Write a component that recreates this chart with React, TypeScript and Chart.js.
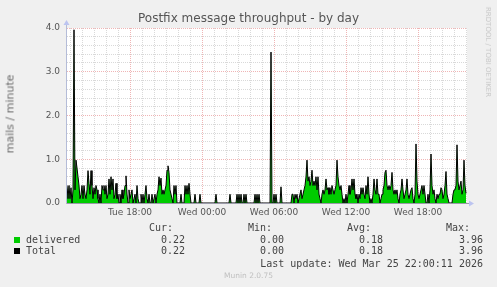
import React, { useEffect, useRef } from "react";
import { Chart, registerables } from "chart.js";

Chart.register(...registerables);

// Time axis: hours since Tue 00:00; one sample every 5 minutes starting Tue 12:45
const startHour = 12.75;
const stepHours = 1 / 12;

const deliveredValues = [
  0.4, 0.1, 0.4, 0.1, 0.35, 0, 0.3, 3.96, 0.3, 0.98, 0.8, 0.6, 0.4, 0.1, 0.2, 0.4, 0.1, 0.4, 0.2, 0.1,
  0.3, 0.74, 0.45, 0.2, 0.74, 0.4, 0.1, 0.35, 0.2, 0.4, 0.3, 0.1, 0, 0.2, 0, 0.4, 0.3, 0.4, 0.2, 0.4,
  0.1, 0.2, 0.55, 0.2, 0.6, 0.3, 0.55, 0.1, 0.2, 0.45, 0.1, 0.2, 0, 0.2, 0, 0.3, 0.1, 0.2, 0.4, 0.62,
  0.2, 0, 0.3, 0.1, 0.2, 0.3, 0, 0.1, 0.2, 0, 0.4, 0.1, 0, 0, 0.2, 0, 0.2, 0, 0.2, 0.4,
  0.1, 0, 0.2, 0, 0, 0.2, 0, 0.1, 0.2, 0, 0.2, 0.3, 0.6, 0.4, 0.57, 0.2, 0.3, 0.2, 0.3, 0.4,
  0.75, 0.85, 0.7, 0.3, 0.2, 0.1, 0, 0.4, 0.2, 0.4, 0, 0, 0, 0, 0.2, 0, 0, 0, 0.4, 0.2,
  0.4, 0.2, 0.45, 0.2, 0, 0, 0, 0, 0.2, 0, 0, 0, 0, 0.2, 0, 0, 0, 0, 0, 0,
  0, 0, 0, 0, 0, 0, 0, 0, 0, 0.2, 0, 0, 0, 0, 0, 0, 0, 0, 0, 0,
  0, 0, 0, 0.2, 0, 0, 0, 0, 0, 0, 0.2, 0, 0.2, 0, 0.2, 0, 0, 0.2, 0, 0.2,
  0, 0, 0, 0, 0, 0, 0, 0, 0.2, 0, 0.2, 0, 0.2, 0, 0, 0, 0, 0, 0, 0,
  0, 0, 0, 0, 3.45, 0, 0, 0.2, 0, 0.2, 0, 0, 0, 0, 0.37, 0, 0, 0, 0, 0,
  0, 0, 0, 0, 0, 0.2, 0.2, 0, 0.2, 0.1, 0.2, 0, 0.1, 0.2, 0.3, 0.1, 0.2, 0.3, 0.4, 0.6,
  0.98, 0.5, 0.6, 0.4, 0.5, 0.75, 0.4, 0.5, 0.4, 0.6, 0.3, 0.6, 0.2, 0.1, 0, 0.2, 0.3, 0.2, 0.3, 0.55,
  0.3, 0.35, 0.2, 0.35, 0.2, 0.4, 0.3, 0.2, 0.3, 0.4, 0.98, 0.6, 0.4, 0.3, 0.4, 0.2, 0, 0.1, 0, 0.2,
  0, 0.2, 0.4, 0.2, 0.3, 0.55, 0.3, 0.55, 0.2, 0.1, 0.2, 0, 0.2, 0.1, 0.35, 0.2, 0.35, 0.2, 0.1, 0.4,
  0.2, 0.6, 0.2, 0, 0.1, 0, 0.2, 0.55, 0.3, 0.2, 0.55, 0.2, 0.2, 0, 0.1, 0.2, 0.3, 0.4, 0.7, 0.75,
  0.4, 0.3, 0.4, 0.3, 0.4, 0.7, 0.3, 0.2, 0.3, 0.2, 0.3, 0.1, 0, 0.2, 0.3, 0.55, 0.3, 0.1, 0.2, 0.3,
  0.55, 0.2, 0.1, 0.2, 0.3, 0.35, 0.1, 0, 0.2, 1.35, 0.5, 0.2, 0.1, 0.2, 0.3, 0.4, 0.2, 0.4, 0.2, 0,
  0, 0.2, 0, 0.3, 1.12, 0.4, 0.2, 0.3, 0.1, 0, 0.2, 0.1, 0.2, 0.2, 0.35, 0.3, 0.1, 0.2, 0.4, 0.72,
  0.2, 0.1, 0, 0, 0, 0, 0.2, 0.3, 0.3, 0.4, 1.33, 0.5, 0.3, 0.4, 0.5, 0.2, 0.3, 0.98, 0.4, 0.22,
];

const totalValues = [
  0.4, 0.1, 0.4, 0.1, 0.35, 0, 0.3, 3.96, 0.3, 0.98, 0.8, 0.6, 0.4, 0.1, 0.2, 0.4, 0.1, 0.4, 0.2, 0.1,
  0.3, 0.74, 0.45, 0.2, 0.74, 0.4, 0.1, 0.35, 0.2, 0.4, 0.3, 0.1, 0, 0.2, 0, 0.4, 0.3, 0.4, 0.2, 0.4,
  0.1, 0.2, 0.55, 0.2, 0.6, 0.3, 0.55, 0.1, 0.2, 0.45, 0.1, 0.2, 0, 0.2, 0, 0.3, 0.1, 0.2, 0.4, 0.62,
  0.2, 0, 0.3, 0.1, 0.2, 0.3, 0, 0.1, 0.2, 0, 0.4, 0.1, 0, 0, 0.2, 0, 0.2, 0, 0.2, 0.4,
  0.1, 0, 0.2, 0, 0, 0.2, 0, 0.1, 0.2, 0, 0.2, 0.3, 0.6, 0.4, 0.57, 0.2, 0.3, 0.2, 0.3, 0.4,
  0.75, 0.85, 0.7, 0.3, 0.2, 0.1, 0, 0.4, 0.2, 0.4, 0, 0, 0, 0, 0.2, 0, 0, 0, 0.4, 0.2,
  0.4, 0.2, 0.45, 0.2, 0, 0, 0, 0, 0.2, 0, 0, 0, 0, 0.2, 0, 0, 0, 0, 0, 0,
  0, 0, 0, 0, 0, 0, 0, 0, 0, 0.2, 0, 0, 0, 0, 0, 0, 0, 0, 0, 0,
  0, 0, 0, 0.2, 0, 0, 0, 0, 0, 0, 0.2, 0, 0.2, 0, 0.2, 0, 0, 0.2, 0, 0.2,
  0, 0, 0, 0, 0, 0, 0, 0, 0.2, 0, 0.2, 0, 0.2, 0, 0, 0, 0, 0, 0, 0,
  0, 0, 0, 0, 3.45, 0, 0, 0.2, 0, 0.2, 0, 0, 0, 0, 0.37, 0, 0, 0, 0, 0,
  0, 0, 0, 0, 0, 0.2, 0.2, 0, 0.2, 0.1, 0.2, 0, 0.1, 0.2, 0.3, 0.1, 0.2, 0.3, 0.4, 0.6,
  0.98, 0.5, 0.6, 0.4, 0.5, 0.75, 0.4, 0.5, 0.4, 0.6, 0.3, 0.6, 0.2, 0.1, 0, 0.2, 0.3, 0.2, 0.3, 0.55,
  0.3, 0.35, 0.2, 0.35, 0.2, 0.4, 0.3, 0.2, 0.3, 0.4, 0.98, 0.6, 0.4, 0.3, 0.4, 0.2, 0, 0.1, 0, 0.2,
  0, 0.2, 0.4, 0.2, 0.3, 0.55, 0.3, 0.55, 0.2, 0.1, 0.2, 0, 0.2, 0.1, 0.35, 0.2, 0.35, 0.2, 0.1, 0.4,
  0.2, 0.6, 0.2, 0, 0.1, 0, 0.2, 0.55, 0.3, 0.2, 0.55, 0.2, 0.2, 0, 0.1, 0.2, 0.3, 0.4, 0.7, 0.75,
  0.4, 0.3, 0.4, 0.3, 0.4, 0.7, 0.3, 0.2, 0.3, 0.2, 0.3, 0.1, 0, 0.2, 0.3, 0.55, 0.3, 0.1, 0.2, 0.3,
  0.55, 0.2, 0.1, 0.2, 0.3, 0.35, 0.1, 0, 0.2, 1.35, 0.5, 0.2, 0.1, 0.2, 0.3, 0.4, 0.2, 0.4, 0.2, 0,
  0, 0.2, 0, 0.3, 1.12, 0.4, 0.2, 0.3, 0.1, 0, 0.2, 0.1, 0.2, 0.2, 0.35, 0.3, 0.1, 0.2, 0.4, 0.72,
  0.2, 0.1, 0, 0, 0, 0, 0.2, 0.3, 0.3, 0.4, 1.33, 0.5, 0.3, 0.4, 0.5, 0.2, 0.3, 0.98, 0.4, 0.22,
];

const xTickPositions = [18, 24, 30, 36, 42];
const xTickLabels = ["Tue 18:00", "Wed 00:00", "Wed 06:00", "Wed 12:00", "Wed 18:00"];
const xMinorHours = [13, 14, 15, 16, 17, 18, 19, 20, 21, 22, 23, 24, 25, 26, 27, 28, 29, 30, 31, 32, 33, 34, 35, 36, 37, 38, 39, 40, 41, 42, 43, 44, 45, 46];
const yTickValues = [0, 0.2, 0.4, 0.6, 0.8, 1, 1.2, 1.4, 1.6, 1.8, 2, 2.2, 2.4, 2.6, 2.8, 3, 3.2, 3.4, 3.6, 3.8, 4];
const yMajorValues = [0, 1, 2, 3, 4];
const yMajorLabels = ["0.0", "1.0", "2.0", "3.0", "4.0"];

const legendNames = ["delivered", "Total"];
const legendColors = ["#00CC00", "#000000"];
const legendCur = ["0.22", "0.22"];
const legendMin = ["0.00", "0.00"];
const legendAvg = ["0.18", "0.18"];
const legendMax = ["3.96", "3.96"];

const MAJOR = "rgba(226, 120, 120, 0.55)";
const MINOR = "rgba(170, 170, 170, 0.45)";
const AXIS = "#B4BCD8";
const ARROW = "#BCC4F0";

const isMajorY = (v: number) => yMajorValues.some((m) => Math.abs(m - v) < 1e-6);

const frame = {
  id: "muninFrame",
  beforeDraw(chart: any) {
    const { ctx, chartArea } = chart;
    ctx.save();
    ctx.fillStyle = "#FFFFFF";
    ctx.fillRect(chartArea.left, chartArea.top, chartArea.right - chartArea.left, chartArea.bottom - chartArea.top);
    ctx.restore();
  },
  afterDraw(chart: any) {
    const { ctx, chartArea } = chart;
    const l = chartArea.left - 0.5;
    const b = chartArea.bottom + 0.5;
    ctx.save();
    ctx.strokeStyle = AXIS;
    ctx.lineWidth = 1;
    ctx.beginPath();
    ctx.moveTo(l, b);
    ctx.lineTo(l, chartArea.top - 4);
    ctx.stroke();
    ctx.strokeStyle = "#9A9AA8";
    ctx.beginPath();
    ctx.moveTo(l, b);
    ctx.lineTo(chartArea.right + 2, b);
    ctx.stroke();
    ctx.fillStyle = ARROW;
    ctx.beginPath();
    ctx.moveTo(l - 3, chartArea.top - 3);
    ctx.lineTo(l + 3, chartArea.top - 3);
    ctx.lineTo(l, chartArea.top - 8);
    ctx.closePath();
    ctx.fill();
    ctx.beginPath();
    ctx.moveTo(chartArea.right + 2, b - 3);
    ctx.lineTo(chartArea.right + 2, b + 3);
    ctx.lineTo(chartArea.right + 7, b);
    ctx.closePath();
    ctx.fill();
    ctx.restore();
  },
};

const mono = "'DejaVu Sans Mono', monospace";
const sans = "'DejaVu Sans', sans-serif";

function T(props: { x: number; y: number; align?: "left" | "right"; children: any; style?: any }) {
  const { x, y, align = "left", children, style } = props;
  const base: any = {
    position: "absolute",
    top: y - 6,
    lineHeight: "12px",
    fontFamily: mono,
    fontSize: 10,
    color: "#444",
    whiteSpace: "pre",
  };
  if (align === "left") base.left = x;
  else base.right = 497 - x;
  return <div style={{ ...base, ...style }}>{children}</div>;
}

export default function App() {
  const canvasRef = useRef<HTMLCanvasElement | null>(null);

  useEffect(() => {
    document.body.style.margin = "0";
    const canvas = canvasRef.current!;
    const chart = new Chart(canvas, {
      type: "line",
      data: {
        datasets: [
          {
            label: "Total",
            order: 0,
            data: totalValues.map((v, i) => ({ x: startHour + i * stepHours, y: v })),
            borderColor: "#000000",
            borderWidth: 1,
            pointRadius: 0,
            fill: false,
            tension: 0,
          },
          {
            label: "delivered",
            order: 1,
            data: deliveredValues.map((v, i) => ({ x: startHour + i * stepHours, y: v })),
            borderColor: "rgba(0,0,0,0)",
            backgroundColor: "#00CC00",
            borderWidth: 0,
            pointRadius: 0,
            fill: "origin",
            tension: 0,
          },
        ],
      },
      options: {
        responsive: false,
        animation: false,
        devicePixelRatio: 1,
        layout: { padding: { left: 0, right: 30, top: 28, bottom: 64 } },
        plugins: { legend: { display: false }, tooltip: { enabled: false }, title: { display: false } },
        scales: {
          x: {
            type: "linear",
            min: startHour,
            max: startHour + deliveredValues.length * stepHours,
            afterBuildTicks: (s: any) => {
              s.ticks = xMinorHours.map((h) => ({ value: h }));
            },
            afterFit: (s: any) => {
              s.height = 20;
            },
            border: { display: false, dash: [1, 1] },
            grid: {
              drawTicks: false,
              color: (c: any) => (c.tick && xTickPositions.includes(c.tick.value) ? MAJOR : MINOR),
              lineWidth: 1,
            },
            ticks: {
              autoSkip: false,
              maxRotation: 0,
              padding: 4,
              color: "#555",
              font: { family: "DejaVu Sans", size: 9 },
              callback: (v: any) => {
                const i = xTickPositions.indexOf(Number(v));
                return i >= 0 ? xTickLabels[i] : "";
              },
            },
          },
          y: {
            min: 0,
            max: 4,
            afterBuildTicks: (s: any) => {
              s.ticks = yTickValues.map((v) => ({ value: v }));
            },
            afterFit: (s: any) => {
              s.width = 67;
            },
            border: { display: false, dash: [1, 1] },
            grid: {
              drawTicks: false,
              color: (c: any) => (c.tick && isMajorY(c.tick.value) ? MAJOR : MINOR),
              lineWidth: 1,
            },
            ticks: {
              autoSkip: false,
              padding: 7,
              color: "#555",
              font: { family: "DejaVu Sans", size: 9 },
              callback: (v: any) => {
                const i = yMajorValues.findIndex((m) => Math.abs(m - Number(v)) < 1e-6);
                return i >= 0 ? yMajorLabels[i] : "";
              },
            },
          },
        },
      },
      plugins: [frame],
    } as any);
    return () => chart.destroy();
  }, []);

  return (
    <div style={{ position: "fixed", left: 0, top: 0, width: 497, height: 287, background: "#F0F0F0", overflow: "hidden" }}>
      <canvas ref={canvasRef} width={497} height={287} style={{ position: "absolute", left: 0, top: 0, width: 497, height: 287 }} />
      <div style={{ position: "absolute", left: 0, top: 10, width: 497, textAlign: "center", fontFamily: sans, fontSize: 12, lineHeight: "16px", color: "#555" }}>
        Postfix message throughput - by day
      </div>
      <div style={{ position: "absolute", left: 10, top: 114, transform: "translate(-50%,-50%) rotate(-90deg)", whiteSpace: "nowrap", fontFamily: sans, fontSize: 11, fontWeight: 400, color: "#6A6A6A" }}>
        mails / minute
      </div>
      <div style={{ position: "absolute", left: 488, top: 52, transform: "translate(-50%,-50%) rotate(90deg)", whiteSpace: "nowrap", fontFamily: sans, fontSize: 7, color: "#C8C8C8" }}>
        RRDTOOL / TOBI OETIKER
      </div>
      <T x={173} y={228} align="right">Cur:</T>
      <T x={272} y={228} align="right">Min:</T>
      <T x={371} y={228} align="right">Avg:</T>
      <T x={470} y={228} align="right">Max:</T>
      {legendNames.map((name, i) => {
        const y = 239.5 + i * 11.7;
        return (
          <React.Fragment key={name}>
            <div style={{ position: "absolute", left: 14, top: Math.round(y - 3), width: 6, height: 6, background: legendColors[i] }} />
            <T x={26} y={y}>{name}</T>
            <T x={185} y={y} align="right">{legendCur[i]}</T>
            <T x={284} y={y} align="right">{legendMin[i]}</T>
            <T x={383} y={y} align="right">{legendAvg[i]}</T>
            <T x={483} y={y} align="right">{legendMax[i]}</T>
          </React.Fragment>
        );
      })}
      <T x={483} y={264} align="right">Last update: Wed Mar 25 22:00:11 2026</T>
      <div style={{ position: "absolute", left: 0, top: 271, width: 497, textAlign: "center", fontFamily: sans, fontSize: 7.5, lineHeight: "10px", color: "#C0C0C0" }}>
        Munin 2.0.75
      </div>
    </div>
  );
}
